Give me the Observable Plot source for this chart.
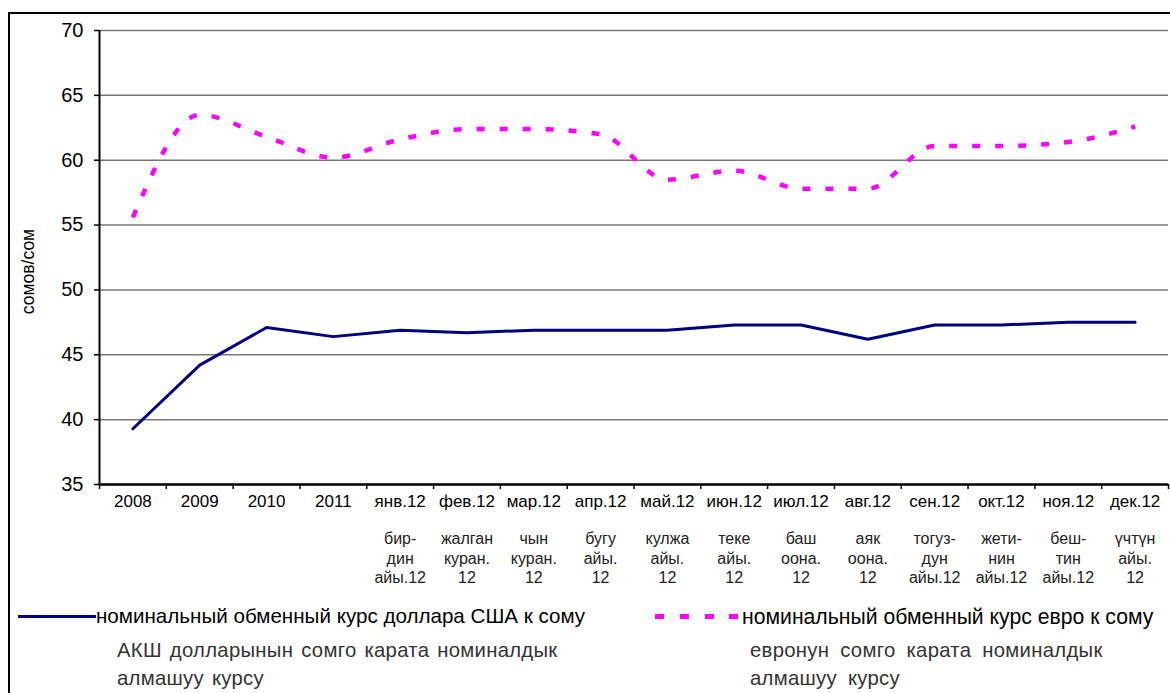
<!DOCTYPE html>
<html>
<head>
<meta charset="utf-8">
<script src="https://cdn.jsdelivr.net/npm/d3@7"></script>
<script src="https://cdn.jsdelivr.net/npm/@observablehq/plot@0.6"></script>
<style>
  html, body { margin: 0; padding: 0; background: #fff; overflow: hidden; }
  body { width: 1170px; height: 693px; position: relative; font-family: "Liberation Sans", Arial, sans-serif; }
  #frame { position: absolute; left: 8px; top: 12px; width: 2000px; height: 2000px; border-left: 2px solid #000; border-top: 2px solid #000; box-sizing: border-box; }
  #chart { position: absolute; left: 0; top: 0; }
  .leg { position: absolute; white-space: nowrap; line-height: 1; }
  .ru { color: #000; }
  .kg { font-size: 20.3px; color: #333; letter-spacing: 0.3px; word-spacing: 2px; line-height: 28px; }
  .sq { position: absolute; width: 9px; height: 5px; background: #ff00ff; }
</style>
</head>
<body>
<div id="frame"></div>
<div id="chart"></div>
<div class="leg" style="left:18px; top:615px; width:78px; height:3px; background:#000080;"></div>
<div class="leg ru" style="left:96px; top:606px; font-size:20.6px;">номинальный обменный курс доллара США к сому</div>
<div class="sq" style="left:655px; top:614px;"></div>
<div class="sq" style="left:680px; top:614px;"></div>
<div class="sq" style="left:705px; top:614px;"></div>
<div class="sq" style="left:729px; top:614px;"></div>
<div class="leg ru" style="left:742px; top:606px; font-size:21.2px;">номинальный обменный курс евро к сому</div>
<div class="leg kg" style="left:117px; top:636px;">АКШ долларынын сомго карата номиналдык<br>алмашуу курсу</div>
<div class="leg kg" style="left:750px; top:636px; word-spacing:5px;">евронун сомго карата номиналдык<br>алмашуу курсу</div>
<script>
const categories = ["2008","2009","2010","2011","янв.12","фев.12","мар.12","апр.12","май.12","июн.12","июл.12","авг.12","сен.12","окт.12","ноя.12","дек.12"];
const kyrgyzLabels = ["","","","","бир-\nдин\nайы.12","жалган\nкуран.\n12","чын\nкуран.\n12","бугу\nайы.\n12","кулжа\nайы.\n12","теке\nайы.\n12","баш\nоона.\n12","аяк\nоона.\n12","тогуз-\nдун\nайы.12","жети-\nнин\nайы.12","беш-\nтин\nайы.12","үчтүн\nайы.\n12"];
const usd = [39.3, 44.2, 47.1, 46.4, 46.9, 46.7, 46.9, 46.9, 46.9, 47.3, 47.3, 46.2, 47.3, 47.3, 47.5, 47.5];
const eur = [55.6, 63.5, 61.8, 60.2, 61.6, 62.4, 62.4, 62.0, 58.5, 59.2, 57.8, 57.8, 61.1, 61.1, 61.4, 62.6];
const yTicks = [35, 40, 45, 50, 55, 60, 65, 70];
const yLabel = "сомов/сом";

const rows = categories.map((c, i) => ({i, c, kg: kyrgyzLabels[i], usd: usd[i], eur: eur[i]}));
const boundaries = d3.range(categories.length + 1);

const chart = Plot.plot({
  width: 1170,
  height: 600,
  marginLeft: 99,
  marginRight: 2,
  marginTop: 30,
  marginBottom: 116,
  style: {fontFamily: "'Liberation Sans', Arial, sans-serif", background: "transparent", color: "#000"},
  x: {domain: [0, categories.length], axis: null},
  y: {domain: [35, 70], axis: null},
  marks: [
    Plot.gridY(yTicks.filter(d => d > 35), {stroke: "#777", strokeOpacity: 1, strokeWidth: 1.5}),
    Plot.axisY(yTicks, {tickSize: 5, tickPadding: 11, fontSize: 20, label: null, stroke: "#000", strokeWidth: 1.5}),
    Plot.axisX(boundaries, {tickSize: 5, tickFormat: () => "", label: null, stroke: "#000", strokeWidth: 1.5}),
    Plot.ruleX([0], {stroke: "#000", strokeWidth: 2}),
    Plot.ruleY([35], {stroke: "#000", strokeWidth: 2.5}),
    Plot.text(rows, {x: d => d.i + 0.5, text: "c", frameAnchor: "bottom", dy: 22, fontSize: 17, fill: "#000"}),
    Plot.text(rows, {x: d => d.i + 0.5, text: "kg", frameAnchor: "bottom", dy: 73, lineAnchor: "middle", lineHeight: 1.22, fontSize: 16, fill: "#222", letterSpacing: 0.5}),
    Plot.text([yLabel], {text: d => d, frameAnchor: "left", textAnchor: "middle", rotate: -90, dx: -71, dy: 14, fontSize: 17.5, fill: "#000"}),
    Plot.line(rows, {x: d => d.i + 0.5, y: "eur", stroke: "#ff00ff", strokeWidth: 4.5, strokeDasharray: "8,15", curve: "monotone-x", strokeLinecap: "butt"}),
    Plot.line(rows, {x: d => d.i + 0.5, y: "usd", stroke: "#000080", strokeWidth: 3})
  ]
});
document.getElementById("chart").appendChild(chart);
</script>
</body>
</html>
